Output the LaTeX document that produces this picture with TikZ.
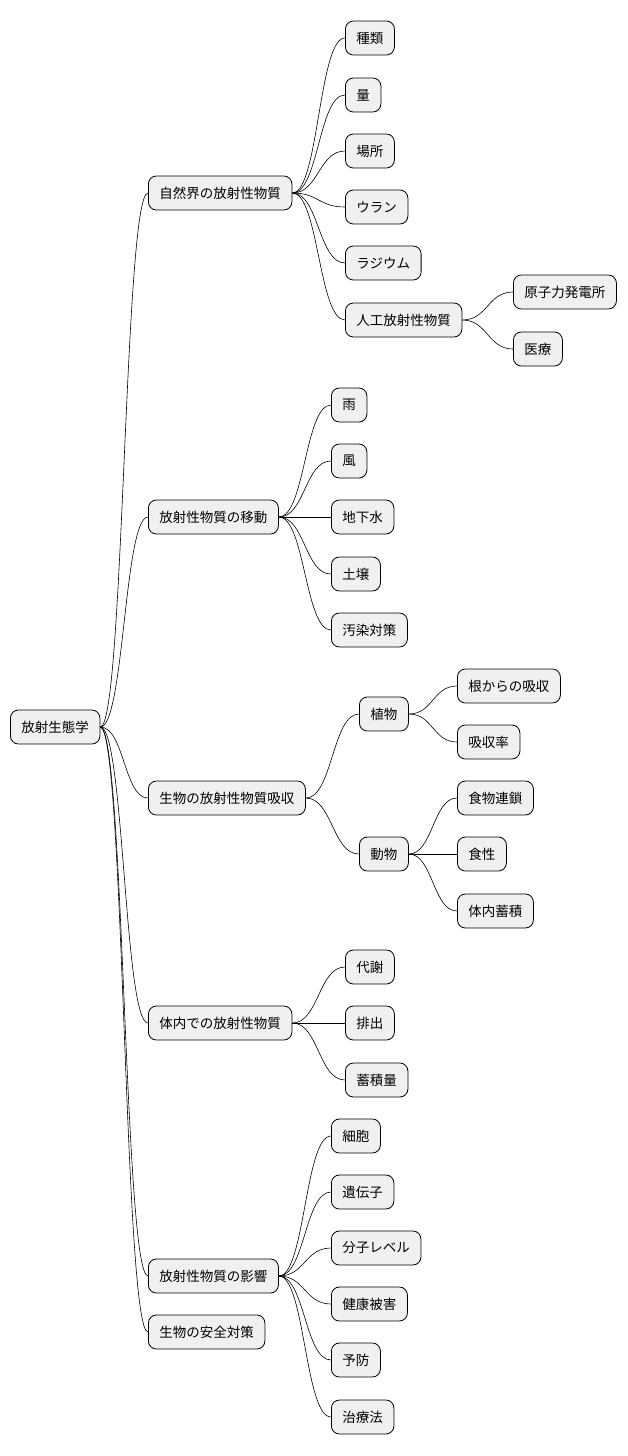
\documentclass[tikz,border=0pt]{standalone}
\usepackage{fontspec}
\setmainfont{Noto Sans CJK JP}
\usetikzlibrary{calc}
\newcommand{\branch}[2]{%
  \foreach \c in {#2}{
    \coordinate (mid) at ($(#1.east)!.5!(\c.west)$);
    \draw[link] (#1.east) .. controls (#1.east -| mid) and (\c.west -| mid) .. (\c.west);
  }}
\begin{document}
\begin{tikzpicture}[x=1pt,y=-1pt,
    box/.style={draw=black,fill=black!6,rounded corners=8pt,anchor=west,
      minimum height=34pt,inner xsep=11pt,font=\fontsize{13.5}{15}\selectfont,line width=0.8pt},
    link/.style={line width=0.6pt}]
  \useasboundingbox (0,0) rectangle (628,1456);
  % root
  \node[box] (root) at (10,727) {放射生態学};
  % level 1
  \node[box] (nat) at (148,193) {自然界の放射性物質};
  \node[box] (mov) at (148,517) {放射性物質の移動};
  \node[box] (abs) at (148,798) {生物の放射性物質吸収};
  \node[box] (body) at (148,1023) {体内での放射性物質};
  \node[box] (eff) at (148,1276) {放射性物質の影響};
  \node[box] (safe) at (148,1332) {生物の安全対策};
  % nature
  \node[box] (kind) at (345,38) {種類};
  \node[box] (amt) at (345,95) {量};
  \node[box] (place) at (345,151) {場所};
  \node[box] (uran) at (345,207) {ウラン};
  \node[box] (rad) at (345,263) {ラジウム};
  \node[box] (art) at (345,320) {人工放射性物質};
  \node[box] (npp) at (513,292) {原子力発電所};
  \node[box] (med) at (513,349) {医療};
  % movement
  \node[box] (rain) at (331,405) {雨};
  \node[box] (wind) at (331,461) {風};
  \node[box] (gw) at (331,517) {地下水};
  \node[box] (soil) at (331,574) {土壌};
  \node[box] (decon) at (331,630) {汚染対策};
  % absorption
  \node[box] (plant) at (359,714) {植物};
  \node[box] (animal) at (359,854) {動物};
  \node[box] (root2) at (457,686) {根からの吸収};
  \node[box] (rate) at (457,742) {吸収率};
  \node[box] (chain) at (457,798) {食物連鎖};
  \node[box] (diet) at (457,854) {食性};
  \node[box] (accum) at (457,911) {体内蓄積};
  % body
  \node[box] (meta) at (345,967) {代謝};
  \node[box] (excr) at (345,1023) {排出};
  \node[box] (stock) at (345,1080) {蓄積量};
  % effect
  \node[box] (cell) at (331,1136) {細胞};
  \node[box] (gene) at (331,1192) {遺伝子};
  \node[box] (mol) at (331,1248) {分子レベル};
  \node[box] (harm) at (331,1304) {健康被害};
  \node[box] (prev) at (331,1360) {予防};
  \node[box] (cure) at (331,1417) {治療法};
  % links
  \branch{root}{nat,mov,abs,body,eff,safe}
  \branch{nat}{kind,amt,place,uran,rad,art}
  \branch{art}{npp,med}
  \branch{mov}{rain,wind,gw,soil,decon}
  \branch{abs}{plant,animal}
  \branch{plant}{root2,rate}
  \branch{animal}{chain,diet,accum}
  \branch{body}{meta,excr,stock}
  \branch{eff}{cell,gene,mol,harm,prev,cure}
\end{tikzpicture}
\end{document}
